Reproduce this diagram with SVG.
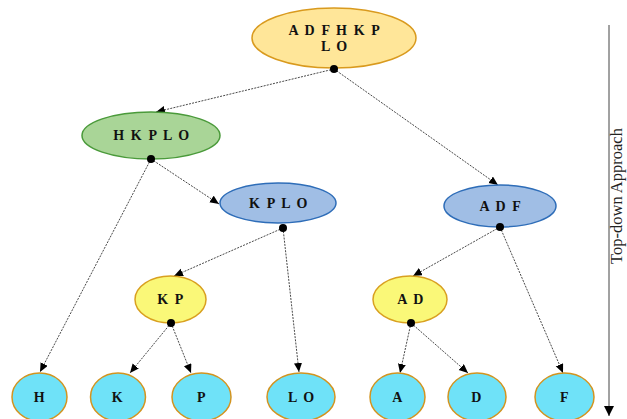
<svg xmlns="http://www.w3.org/2000/svg" width="627" height="419" viewBox="0 0 627 419">
<defs>
<style>
.t{font-family:"Liberation Serif","DejaVu Serif",serif;font-weight:bold;font-size:14px;fill:#111;text-anchor:middle;letter-spacing:1.6px}
.c{stroke:#333;stroke-width:0.9;stroke-dasharray:2,1.2;fill:none;marker-end:url(#ah)}
.root{fill:#FFE699;stroke:#D99A1E;stroke-width:1.5}
.green{fill:#A9D597;stroke:#4A9A3A;stroke-width:1.5}
.blue{fill:#A0BEE5;stroke:#2E6DB8;stroke-width:1.5}
.yel{fill:#FAF878;stroke:#D9A020;stroke-width:1.5}
.leaf{fill:#6FE2F8;stroke:#D39420;stroke-width:1.5}
</style>
<marker id="ah" markerWidth="10" markerHeight="10" refX="9" refY="4" orient="auto" markerUnits="userSpaceOnUse">
<path d="M0,0 L9,4 L0,8 Z" fill="#000"/>
</marker>
<marker id="ah2" markerWidth="12" markerHeight="12" refX="10" refY="5" orient="auto" markerUnits="userSpaceOnUse">
<path d="M0,0 L10,5 L0,10 Z" fill="#000"/>
</marker>
</defs>

<g id="connectors">
<line class="c" x1="334" y1="69" x2="156" y2="112"/>
<line class="c" x1="334" y1="69" x2="498" y2="185"/>
<line class="c" x1="151" y1="159" x2="40" y2="372"/>
<line class="c" x1="151" y1="159" x2="219" y2="204"/>
<line class="c" x1="283" y1="228" x2="174" y2="276"/>
<line class="c" x1="283" y1="228" x2="299" y2="372"/>
<line class="c" x1="500" y1="227" x2="413" y2="276"/>
<line class="c" x1="500" y1="227" x2="563" y2="373"/>
<line class="c" x1="171" y1="323" x2="130" y2="373"/>
<line class="c" x1="171" y1="323" x2="191" y2="373"/>
<line class="c" x1="411" y1="323" x2="400" y2="373"/>
<line class="c" x1="411" y1="323" x2="468" y2="373"/>
</g>

<g id="n-root"><ellipse class="root" cx="334" cy="38" rx="82" ry="30"/><text class="t" x="335" y="35">A D F H K P</text><text class="t" x="335" y="51">L O</text></g>
<g id="n-hkplo"><ellipse class="green" cx="151" cy="135.5" rx="69" ry="23.5"/><text class="t" x="152" y="140">H K P L O</text></g>
<g id="n-kplo"><ellipse class="blue" cx="278" cy="203" rx="58" ry="20"/><text class="t" x="279" y="208">K P L O</text></g>
<g id="n-adf"><ellipse class="blue" cx="500" cy="206" rx="56" ry="21"/><text class="t" x="501" y="211">A D F</text></g>
<g id="n-kp"><ellipse class="yel" cx="170.5" cy="299.5" rx="35.5" ry="23.5"/><text class="t" x="171" y="304">K P</text></g>
<g id="n-ad"><ellipse class="yel" cx="410" cy="299.5" rx="37" ry="23.5"/><text class="t" x="411" y="304">A D</text></g>
<g id="n-h"><ellipse class="leaf" cx="39.5" cy="397" rx="27.5" ry="24"/><text class="t" x="40" y="402">H</text></g>
<g id="n-k"><ellipse class="leaf" cx="118" cy="397" rx="27.5" ry="24"/><text class="t" x="118" y="402">K</text></g>
<g id="n-p"><ellipse class="leaf" cx="201.5" cy="397" rx="29.5" ry="24"/><text class="t" x="202" y="402">P</text></g>
<g id="n-lo"><ellipse class="leaf" cx="301" cy="397" rx="34" ry="24"/><text class="t" x="302" y="402">L O</text></g>
<g id="n-a"><ellipse class="leaf" cx="397.5" cy="397" rx="27.5" ry="24"/><text class="t" x="398" y="402">A</text></g>
<g id="n-d"><ellipse class="leaf" cx="477" cy="397" rx="29" ry="24"/><text class="t" x="477" y="402">D</text></g>
<g id="n-f"><ellipse class="leaf" cx="564.5" cy="397" rx="29.5" ry="24"/><text class="t" x="565" y="402">F</text></g>

<g id="dots" fill="#000">
<circle cx="334" cy="69" r="4"/>
<circle cx="151" cy="159" r="4"/>
<circle cx="283" cy="228" r="4"/>
<circle cx="500" cy="227" r="4"/>
<circle cx="171" cy="323" r="4"/>
<circle cx="411" cy="323" r="4"/>
</g>

<g id="axis">
<line x1="609" y1="25" x2="609" y2="416" stroke="#444" stroke-width="1" marker-end="url(#ah2)"/>
<text x="622" y="196" transform="rotate(-90 622 196)" font-family="'Liberation Serif','DejaVu Serif',serif" font-size="16.5" fill="#222" text-anchor="middle">Top-down Approach</text>
</g>
</svg>
